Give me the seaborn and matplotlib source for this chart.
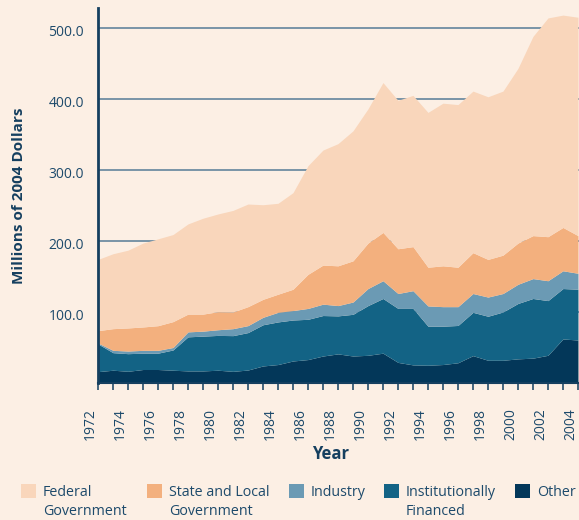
import matplotlib
matplotlib.use("Agg")
import matplotlib.pyplot as plt
from matplotlib.patches import Rectangle
from matplotlib.transforms import ScaledTranslation
from matplotlib.ticker import MultipleLocator, FixedLocator
import numpy as np
import pandas as pd
import seaborn as sns

# ---------------- data ----------------
years = list(range(1972, 2005))
federal = [100.3, 105.5, 109.5, 118.1, 122.3, 122.6, 127.0, 135.0, 137.6, 143.0,
           144.5, 133.2, 128.0, 136.0, 153.0, 162.0, 172.0, 183.0, 189.0, 211.0,
           209.0, 213.0, 218.0, 229.0, 229.0, 227.5, 229.0, 231.0, 246.0, 280.5,
           308.0, 299.0, 307.5]
state_local = [17.4, 30.5, 32.5, 32.9, 34.7, 36.4, 25.0, 24.0, 25.4, 23.5,
               26.7, 25.3, 25.5, 30.0, 48.0, 55.0, 56.0, 58.0, 64.0, 68.0,
               63.0, 62.0, 54.5, 57.5, 55.5, 57.5, 53.0, 54.0, 58.0, 60.5,
               62.0, 61.0, 53.0]
industry = [1.3, 3.3, 3.7, 4.0, 4.0, 3.5, 7.0, 7.0, 8.0, 9.8,
            9.8, 10.5, 13.5, 13.3, 15.3, 16.0, 14.5, 17.3, 24.0, 25.0,
            21.0, 25.0, 28.5, 27.5, 26.5, 26.5, 27.0, 26.0, 27.0, 28.0,
            28.0, 25.0, 22.5]
institutional = [39.0, 24.7, 24.8, 23.0, 23.0, 28.5, 48.0, 49.0, 49.0, 50.3,
                 52.7, 58.0, 60.0, 57.7, 56.7, 57.0, 53.5, 58.7, 70.0, 77.0,
                 76.0, 79.5, 55.0, 54.0, 52.5, 61.0, 62.0, 68.0, 78.0, 84.0,
                 77.0, 71.0, 71.5]
other = [16.0, 18.0, 16.5, 19.0, 19.0, 18.0, 17.0, 17.0, 18.0, 16.4,
         18.3, 24.0, 26.0, 31.0, 33.0, 38.0, 41.0, 38.0, 39.0, 42.0,
         29.0, 25.5, 25.0, 26.0, 28.5, 38.5, 32.0, 32.0, 34.0, 35.0,
         39.0, 62.0, 60.5]

series_names = ["Federal\nGovernment", "State and Local\nGovernment", "Industry",
                "Institutionally\nFinanced", "Other"]
y_ticks = [100, 200, 300, 400, 500]
x_label_years = list(range(1972, 2005, 2))

colors = ["#f9d6bb", "#f3b07e", "#6b9ab4", "#136385", "#033759"]
bg = "#fcefe4"
text_c = "#1d4a6b"
dark = "#153f5f"

df = pd.DataFrame({"Year": years, "Federal": federal, "State": state_local,
                   "Industry": industry, "Institutional": institutional,
                   "Other": other})

# ---------------- style ----------------
sns.set_theme(style="white")
plt.rcParams["font.family"] = ["Open Sans", "DejaVu Sans"]

W, H = 579, 520
fig = plt.figure(figsize=(W / 100, H / 100), dpi=100, facecolor=bg)
ax = fig.add_axes([98 / W, 1 - 383 / H, 481 / W, 375 / H])
ax.set_facecolor(bg)

# stacked areas, bottom to top
ax.stackplot(df["Year"], df["Other"], df["Institutional"], df["Industry"],
             df["State"], df["Federal"],
             colors=[colors[4], colors[3], colors[2], colors[1], colors[0]],
             linewidth=0, zorder=2)

ax.set_xlim(1972, 2004.07)
ax.set_ylim(0, 528)

# y axis
ax.yaxis.set_major_locator(FixedLocator(y_ticks))
ax.set_yticklabels([f"{v:.1f}" for v in y_ticks])
ax.tick_params(axis="y", length=0, pad=10, labelsize=10, labelcolor=text_c)
ax.yaxis.grid(True, color="#6f8da2", linewidth=1.3, zorder=1)
ax.xaxis.grid(False)
ax.set_axisbelow(True)
for lab in ax.get_yticklabels():
    lab.set_transform(lab.get_transform() + ScaledTranslation(0, -0.03, fig.dpi_scale_trans))

# x axis
ax.xaxis.set_major_locator(FixedLocator(x_label_years))
ax.xaxis.set_minor_locator(MultipleLocator(1))
ax.set_xticklabels([str(y) for y in x_label_years], rotation=90, ha="right")
ax.tick_params(axis="x", which="both", direction="out", length=5, width=1.1,
               color=dark, pad=13, labelsize=10, labelcolor=text_c, bottom=True)

for s in ["top", "right"]:
    ax.spines[s].set_visible(False)
ax.spines["left"].set_color(dark)
ax.spines["left"].set_linewidth(2.0)
ax.spines["bottom"].set_color(dark)
ax.spines["bottom"].set_linewidth(1.5)
for s in ["left", "bottom"]:
    ax.spines[s].set_zorder(5)

ax.set_ylabel("Millions of 2004 Dollars", fontsize=11, fontweight="bold", color=dark)
ax.yaxis.set_label_coords(-0.15, 0.5)
ax.set_xlabel("Year", fontsize=12, fontweight="bold", color=dark)
ax.xaxis.set_label_coords((331 - 98) / 481, -0.165)
ax.xaxis.label.set_va("top")

# legend (manual, to keep swatches aligned with first line)
sw_x = [21, 147, 289, 384, 515]
for name, col, x in zip(series_names, colors, sw_x):
    fig.add_artist(Rectangle((x / W, 1 - 498 / H), 15 / W, 14 / H,
                             transform=fig.transFigure, facecolor=col,
                             edgecolor="none"))
    for i, line in enumerate(name.split("\n")):
        fig.text((x + 22) / W, 1 - (496 + 19 * i) / H, line, fontsize=10.3,
                 color=text_c, ha="left", va="baseline")

fig.savefig("out.png", dpi=100, facecolor=bg)
